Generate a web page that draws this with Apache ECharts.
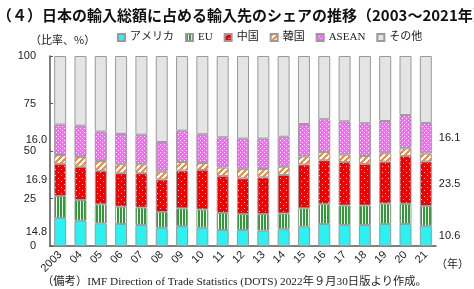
<!DOCTYPE html>
<html>
<head>
<meta charset="utf-8">
<script src="https://cdn.jsdelivr.net/npm/echarts@6/dist/echarts.min.js"></script>
<style>
  html, body { margin: 0; padding: 0; background: #fff; }
  #chart { width: 474px; height: 289px; }
</style>
</head>
<body>
<div id="chart"></div>
<script>
// 日本の輸入総額に占める輸入先のシェア (%)
const years = ['2003', '04', '05', '06', '07', '08', '09', '10', '11', '12', '13', '14', '15', '16', '17', '18', '19', '20', '21'];
const america = [14.8, 13.3, 11.9, 11.6, 11.1, 9.6, 10.5, 9.6, 8.4, 8.4, 8.1, 8.8, 10.2, 11.6, 11.1, 11.1, 11.6, 11.6, 10.6];
const eu      = [11.5, 10.9, 10.0, 9.1, 9.1, 8.3, 9.3, 9.6, 9.0, 8.4, 8.7, 8.3, 9.6, 10.4, 10.2, 10.2, 10.7, 10.6, 10.4];
const china   = [16.9, 17.5, 17.7, 17.6, 18.1, 17.1, 19.9, 20.8, 19.4, 18.8, 19.3, 20.3, 23.1, 23.1, 22.9, 21.9, 22.1, 25.2, 23.5];
const korea   = [4.7, 5.2, 5.1, 4.7, 4.7, 4.1, 4.5, 3.7, 4.5, 4.8, 4.4, 4.3, 4.2, 4.4, 3.9, 4.2, 4.4, 4.0, 4.2];
const asean   = [16.0, 16.4, 15.5, 16.0, 15.6, 15.6, 16.5, 15.1, 15.9, 16.1, 16.0, 15.8, 17.1, 17.2, 17.5, 17.2, 17.0, 17.5, 16.1];
const others  = [36.1, 36.7, 39.8, 41.0, 41.4, 45.3, 39.3, 41.2, 42.8, 43.5, 43.5, 42.5, 35.8, 33.3, 34.4, 35.4, 34.2, 31.1, 35.2];
const yTicks = [0, 25, 50, 75, 100];

// 模様
function makePattern(w, h, draw) {
  const c = document.createElement('canvas');
  c.width = w; c.height = h;
  const ctx = c.getContext('2d');
  draw(ctx);
  return { image: c, repeat: 'repeat' };
}
function pixels(w, h, fn) {
  return makePattern(w, h, function (ctx) {
    for (let x = 0; x < w; x++) {
      for (let y = 0; y < h; y++) {
        ctx.fillStyle = fn(x, y);
        ctx.fillRect(x, y, 1, 1);
      }
    }
  });
}
const euPat = pixels(3, 1, (x) => x < 2 ? '#2f9a36' : '#f4fff4');
const cnPat = pixels(6, 6, (x, y) => ((x === 1 && y === 1) || (x === 4 && y === 4)) ? '#ffd0d0' : '#f20000');
const krPat = pixels(6, 6, (x, y) => ((x + y) % 6) < 3 ? '#ff8a3a' : '#ffffff');
const asPat = pixels(4, 4, (x, y) => (x % 2 === 0 && y % 2 === 0 && (x + y) % 4 === 0) ? '#ffffff' : '#f46cf4');

const last = years.length - 1;
function withEndLabels(arr) {
  return arr.map(function (v, i) {
    if (i === 0) return { value: v, label: { show: true, position: 'left', distance: 7 } };
    if (i === last) return { value: v, label: { show: true, position: 'right', distance: 7 } };
    return v;
  });
}

const labelStyle = {
  formatter: (p) => p.value.toFixed(1),
  fontFamily: 'Liberation Sans, Noto Sans CJK JP',
  fontSize: 11,
  color: '#222'
};

function bar(name, data, color) {
  return {
    name: name,
    type: 'bar',
    stack: 'share',
    barWidth: 12,
    data: data,
    itemStyle: { color: color, borderColor: '#9a9a9a', borderWidth: 1 },
    label: Object.assign({ show: false }, labelStyle),
    emphasis: { disabled: true }
  };
}

const chart = echarts.init(document.getElementById('chart'));
chart.setOption({
  animation: false,
  title: {
    text: '（４）日本の輸入総額に占める輸入先のシェアの推移（2003～2021年）',
    left: -8,
    top: 3,
    textStyle: { fontFamily: 'Noto Sans CJK JP', fontSize: 15, fontWeight: 'bold', color: '#111' }
  },
  legend: {
    left: 112,
    top: 27,
    icon: 'rect',
    itemWidth: 7,
    itemHeight: 7,
    itemGap: 11,
    textStyle: { fontFamily: 'Liberation Serif, Noto Sans CJK JP', fontSize: 11, color: '#222' },
    data: ['アメリカ', 'EU', '中国', '韓国', 'ASEAN', 'その他']
  },
  grid: { left: 50, right: 38, top: 56, bottom: 43 },
  xAxis: {
    type: 'category',
    data: years,
    axisLine: { lineStyle: { color: '#555', width: 1.5 } },
    axisTick: { show: false },
    axisLabel: { rotate: 45, margin: 7, fontFamily: 'Liberation Sans', fontSize: 11, color: '#222' }
  },
  yAxis: {
    type: 'value',
    min: yTicks[0],
    max: yTicks[yTicks.length - 1],
    interval: 25,
    axisLine: { show: true, lineStyle: { color: '#555', width: 1.5 } },
    axisTick: { show: true, inside: true, length: 3, lineStyle: { color: '#555' } },
    splitLine: { show: false },
    axisLabel: { margin: 14, fontFamily: 'Liberation Sans', fontSize: 11, color: '#222' }
  },
  graphic: [
    { type: 'text', left: 30, top: 34, style: { text: '（比率、%）', font: '11px "Noto Sans CJK JP"', fill: '#222' } },
    { type: 'text', left: 436, top: 258, style: { text: '（年）', font: '11px "Noto Sans CJK JP"', fill: '#222' } },
    { type: 'text', left: 42, top: 276, style: { text: '（備考）IMF Direction of Trade Statistics (DOTS) 2022年９月30日版より作成。', font: '11.3px "Liberation Serif", "Noto Sans CJK JP"', fill: '#222' } }
  ],
  series: [
    bar('アメリカ', withEndLabels(america), '#2af2f2'),
    bar('EU', eu, euPat),
    bar('中国', withEndLabels(china), cnPat),
    bar('韓国', korea, krPat),
    bar('ASEAN', withEndLabels(asean), asPat),
    bar('その他', others, '#e4e4e4')
  ]
});
</script>
</body>
</html>
